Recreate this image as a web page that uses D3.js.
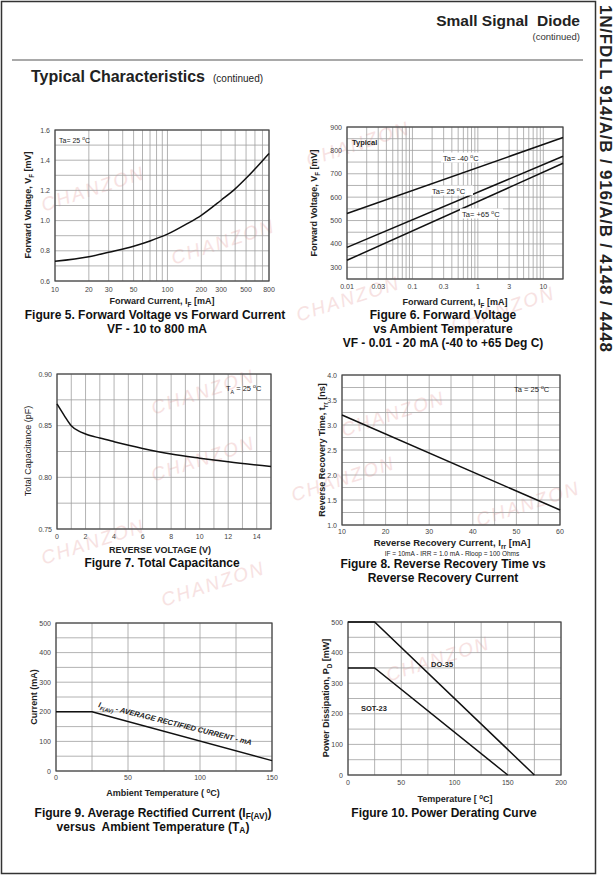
<!DOCTYPE html>
<html>
<head>
<meta charset="utf-8">
<script src="https://cdn.jsdelivr.net/npm/d3@7"></script>
<style>
body { margin: 0; background: #fff; }
svg { display: block; font-family: "Liberation Sans", Arial, sans-serif; }
text { white-space: pre; }
</style>
</head>
<body>
<svg id="page" width="616" height="879"></svg>
<script>
// Figure 5 - forward voltage vs forward current
var fig5Current = [10, 20, 30, 50, 70, 100, 150, 200, 300, 400, 500, 800];
var fig5Voltage = [0.73, 0.76, 0.79, 0.83, 0.865, 0.91, 0.98, 1.035, 1.135, 1.21, 1.28, 1.445];
var fig5XTicks = [10, 20, 30, 50, 100, 200, 300, 500, 800];
var fig5YTicks = [0.6, 0.8, 1.0, 1.2, 1.4, 1.6];

// Figure 6 - forward voltage at three temperatures
var fig6Current = [0.01, 20];
var fig6Minus40 = [530, 855];
var fig6Plus25 = [385, 775];
var fig6Plus65 = [330, 745];
var fig6XTicks = [0.01, 0.03, 0.1, 0.3, 1, 3, 10];
var fig6YTicks = [300, 400, 500, 600, 700, 800, 900];

// Figure 7 - total capacitance
var fig7Voltage = [0, 0.5, 1, 1.5, 2, 3, 4, 6, 8, 10, 12, 15];
var fig7Cap = [0.871, 0.86, 0.85, 0.845, 0.842, 0.838, 0.8345, 0.828, 0.8225, 0.8185, 0.815, 0.8105];
var fig7XTicks = [0, 2, 4, 6, 8, 10, 12, 14];
var fig7YTicks = [0.75, 0.80, 0.85, 0.90];

// Figure 8 - reverse recovery time
var fig8Current = [10, 60];
var fig8Time = [3.2, 1.3];
var fig8XTicks = [10, 20, 30, 40, 50, 60];
var fig8YTicks = [1.0, 1.5, 2.0, 2.5, 3.0, 3.5, 4.0];

// Figure 9 - average rectified current
var fig9Temp = [0, 25, 150];
var fig9Current = [200, 200, 35];
var fig9XTicks = [0, 50, 100, 150];
var fig9YTicks = [0, 100, 200, 300, 400, 500];

// Figure 10 - power derating
var fig10TempDO35 = [0, 25, 175];
var fig10PowerDO35 = [500, 500, 0];
var fig10TempSOT23 = [0, 25, 150];
var fig10PowerSOT23 = [350, 350, 0];
var fig10XTicks = [0, 50, 100, 150, 200];
var fig10YTicks = [0, 100, 200, 300, 400, 500];

var svg = d3.select("#page");

// text with sub / superscript pieces
function rich(t, parts) {
    var shift = 0;
    parts.forEach(function (p) {
        var target = p[1] === "sub" ? 2.5 : p[1] === "sup" ? -3 : 0;
        var s = t.append("tspan").text(p[0]).attr("dy", target - shift);
        if (p[1]) s.style("font-size", "0.7em");
        shift = target;
    });
    return t;
}

function zip(a, b) { return a.map(function (d, i) { return [d, b[i]]; }); }

// faint watermark
var marks = [[95, 195], [225, 248], [360, 150], [350, 305], [205, 398], [95, 548], [395, 420], [345, 485],
    [215, 590], [505, 315], [530, 510], [440, 665], [205, 465]];
svg.append("g").selectAll("text").data(marks).enter().append("text")
    .attr("transform", function (d) { return "translate(" + d[0] + "," + d[1] + ") rotate(-18)"; })
    .attr("text-anchor", "middle")
    .style("font-size", "19px").style("font-style", "italic")
    .style("letter-spacing", "2px")
    .attr("fill", "#f7e2e2")
    .text("CHANZON");

// page frame and header
svg.append("rect").attr("x", 1.5).attr("y", 1.5).attr("width", 594).attr("height", 872)
    .attr("fill", "none").attr("stroke", "#333").attr("stroke-width", 1.5);
svg.append("line").attr("x1", 12).attr("x2", 583).attr("y1", 60).attr("y2", 60)
    .attr("stroke", "#555").attr("stroke-width", 1.2);
svg.append("text").attr("x", 580).attr("y", 26).attr("text-anchor", "end")
    .style("font-size", "15.5px").style("font-weight", "bold").attr("fill", "#222")
    .text("Small Signal  Diode");
svg.append("text").attr("x", 580).attr("y", 40).attr("text-anchor", "end")
    .style("font-size", "9.5px").attr("fill", "#333").text("(continued)");
var head = svg.append("text").attr("x", 31).attr("y", 82).attr("fill", "#222");
head.append("tspan").style("font-size", "16px").style("font-weight", "bold").text("Typical Characteristics");
head.append("tspan").attr("dx", 8).style("font-size", "10px").text("(continued)");
svg.append("text").attr("transform", "translate(600,5) rotate(90)")
    .attr("textLength", 347).attr("lengthAdjust", "spacing")
    .style("font-size", "17px").style("font-weight", "bold").attr("fill", "#222")
    .text("1N/FDLL 914/A/B / 916/A/B / 4148 / 4448");

// one chart panel: grid, frame and tick labels
function panel(p) {
    var g = svg.append("g");
    var x = p.x.range([p.left, p.right]);
    var y = p.y.range([p.bottom, p.top]);
    g.selectAll(".gx").data(p.gridX).enter().append("line")
        .attr("x1", function (d) { return x(d); }).attr("x2", function (d) { return x(d); })
        .attr("y1", p.top).attr("y2", p.bottom)
        .attr("stroke", "#a0a0a0").attr("stroke-width", 0.8);
    g.selectAll(".gy").data(p.gridY).enter().append("line")
        .attr("x1", p.left).attr("x2", p.right)
        .attr("y1", function (d) { return y(d); }).attr("y2", function (d) { return y(d); })
        .attr("stroke", "#a0a0a0").attr("stroke-width", 0.8);
    g.append("rect").attr("x", p.left).attr("y", p.top)
        .attr("width", p.right - p.left).attr("height", p.bottom - p.top)
        .attr("fill", "none").attr("stroke", "#444").attr("stroke-width", 1.2);
    g.selectAll(".tx").data(p.tickX).enter().append("text")
        .attr("x", function (d) { return x(d); }).attr("y", p.bottom + (p.xPad || 10))
        .attr("text-anchor", "middle").style("font-size", "7px").attr("fill", "#444")
        .text(p.fmtX);
    g.selectAll(".ty").data(p.tickY).enter().append("text")
        .attr("x", p.left - 5).attr("y", function (d) { return y(d) + 2.5; })
        .attr("text-anchor", "end").style("font-size", "7px").attr("fill", "#444")
        .text(p.fmtY);
    return { g: g, x: x, y: y };
}

function curve(c, xs, ys, interp) {
    var line = d3.line()
        .x(function (d) { return c.x(d[0]); })
        .y(function (d) { return c.y(d[1]); });
    if (interp) line.curve(d3.curveMonotoneX);
    c.g.append("path").datum(zip(xs, ys)).attr("d", line)
        .attr("fill", "none").attr("stroke", "#111").attr("stroke-width", 1.5);
}

function yTitle(x, y, parts, bold) {
    var t = svg.append("text").attr("transform", "translate(" + x + "," + y + ") rotate(-90)")
        .attr("text-anchor", "middle").style("font-size", "9px").attr("fill", "#222");
    if (bold) t.style("font-weight", "bold");
    return rich(t, parts);
}
function xTitle(x, y, parts, size) {
    var t = svg.append("text").attr("x", x).attr("y", y).attr("text-anchor", "middle")
        .style("font-size", (size || 9) + "px").style("font-weight", "bold").attr("fill", "#222");
    return rich(t, parts);
}
function caption(x, y, parts) {
    var t = svg.append("text").attr("x", x).attr("y", y).attr("text-anchor", "middle")
        .style("font-size", "12px").style("font-weight", "bold").attr("fill", "#111");
    return rich(t, parts);
}
function note(x, y, parts, size, bold, anchor) {
    var t = svg.append("text").attr("x", x).attr("y", y).attr("text-anchor", anchor || "start")
        .style("font-size", (size || 7) + "px").attr("fill", "#222");
    if (bold) t.style("font-weight", "bold");
    return rich(t, parts);
}

// ---- Figure 5
var f5 = panel({
    left: 55, top: 130, right: 269, bottom: 281,
    x: d3.scaleLog().domain([10, 800]), y: d3.scaleLinear().domain([0.6, 1.6]),
    gridX: d3.scaleLog().domain([10, 800]).ticks(), gridY: d3.range(0.6, 1.65, 0.1),
    tickX: fig5XTicks, tickY: fig5YTicks, xPad: 11,
    fmtX: function (d) { return d; }, fmtY: d3.format(".1f")
});
curve(f5, fig5Current, fig5Voltage, true);
note(59, 143, [["Ta= 25 "], ["o", "sup"], ["C"]]);
yTitle(31, 205, [["Forward Voltage, V"], ["F", "sub"], [" [mV]"]], true);
xTitle(162, 304, [["Forward Current, I"], ["F", "sub"], [" [mA]"]]);
caption(155, 318.5, [["Figure 5. Forward Voltage vs Forward Current"]]);
caption(157, 333, [["VF - 10 to 800 mA"]]);

// ---- Figure 6
var f6 = panel({
    left: 347, top: 127, right: 563, bottom: 279,
    x: d3.scaleLog().domain([0.01, 20]), y: d3.scaleLinear().domain([250, 900]),
    gridX: d3.scaleLog().domain([0.01, 20]).ticks(), gridY: d3.range(250, 901, 50),
    tickX: fig6XTicks, tickY: fig6YTicks, xPad: 10,
    fmtX: function (d) { return d; }, fmtY: function (d) { return d; }
});
curve(f6, fig6Current, fig6Minus40);
curve(f6, fig6Current, fig6Plus25);
curve(f6, fig6Current, fig6Plus65);
note(352, 145, [["Typical"]], 7.5, true);
[[443, 160.5, "-40 "], [432, 193.5, "25 "], [462, 216.5, "+65 "]].forEach(function (l) {
    f6.g.append("rect").attr("x", l[0] - 2).attr("y", l[1] - 8).attr("width", 43).attr("height", 10).attr("fill", "#fff");
    note(l[0], l[1], [["Ta= " + l[2]], ["o", "sup"], ["C"]], 7.5);
});
yTitle(317, 203, [["Forward Voltage, V"], ["F", "sub"], [" [mV]"]], true);
xTitle(455, 305, [["Forward Current, I"], ["F", "sub"], [" [mA]"]]);
caption(443, 318.5, [["Figure 6. Forward Voltage"]]);
caption(443, 332.5, [["vs Ambient Temperature"]]);
caption(443, 346.5, [["VF - 0.01 - 20 mA (-40 to +65 Deg C)"]]);

// ---- Figure 7
var f7 = panel({
    left: 57, top: 374, right: 271, bottom: 529,
    x: d3.scaleLinear().domain([0, 15]), y: d3.scaleLinear().domain([0.75, 0.90]),
    gridX: d3.range(0, 16, 1), gridY: d3.range(0.75, 0.9001, 0.025),
    tickX: fig7XTicks, tickY: fig7YTicks, xPad: 10,
    fmtX: function (d) { return d; }, fmtY: d3.format(".2f")
});
curve(f7, fig7Voltage, fig7Cap, true);
note(226, 391, [["T"], ["A", "sub"], [" = 25 "], ["o", "sup"], ["C"]], 7.5);
yTitle(31, 451, [["Total Capacitance (pF)"]], false);
xTitle(160, 553, [["REVERSE VOLTAGE (V)"]]);
caption(162, 566.5, [["Figure 7. Total Capacitance"]]);

// ---- Figure 8
var f8 = panel({
    left: 342, top: 375, right: 560, bottom: 525,
    x: d3.scaleLinear().domain([10, 60]), y: d3.scaleLinear().domain([1, 4]),
    gridX: d3.range(10, 61, 5), gridY: d3.range(1, 4.01, 0.25),
    tickX: fig8XTicks, tickY: fig8YTicks, xPad: 9,
    fmtX: function (d) { return d; }, fmtY: d3.format(".1f")
});
curve(f8, fig8Current, fig8Time);
note(514, 392, [["Ta = 25 "], ["o", "sup"], ["C"]], 7.5);
yTitle(325, 450, [["Reverse Recovery Time, t"], ["rr", "sub"], [" [ns]"]], true);
xTitle(452, 546, [["Reverse Recovery Current, I"], ["rr", "sub"], [" [mA]"]], 9.5);
note(452, 555.5, [["IF = 10mA - IRR = 1.0 mA - Rloop = 100 Ohms"]], 6.5, false, "middle");
caption(443, 567.5, [["Figure 8. Reverse Recovery Time vs"]]);
caption(443, 581.5, [["Reverse Recovery Current"]]);

// ---- Figure 9
var f9 = panel({
    left: 56, top: 623, right: 272, bottom: 771,
    x: d3.scaleLinear().domain([0, 150]), y: d3.scaleLinear().domain([0, 500]),
    gridX: d3.range(0, 151, 25), gridY: d3.range(0, 501, 50),
    tickX: fig9XTicks, tickY: fig9YTicks, xPad: 9,
    fmtX: function (d) { return d; }, fmtY: function (d) { return d; }
});
curve(f9, fig9Temp, fig9Current);
var lab9 = svg.append("text").attr("transform", "translate(98,707) rotate(14)")
    .style("font-size", "7.5px").style("font-weight", "bold").style("font-style", "italic")
    .attr("fill", "#222");
rich(lab9, [["I"], ["F(AV)", "sub"], [" - AVERAGE RECTIFIED CURRENT - mA"]]);
yTitle(37, 697, [["Current (mA)"]], true);
xTitle(163, 796, [["Ambient Temperature ( "], ["o", "sup"], ["C)"]]);
caption(153, 816.5, [["Figure 9. Average Rectified Current (I"], ["F(AV)", "sub"], [")"]]);
caption(153, 830.5, [["versus  Ambient Temperature (T"], ["A", "sub"], [")"]]);

// ---- Figure 10
var f10 = panel({
    left: 348, top: 622, right: 561, bottom: 775,
    x: d3.scaleLinear().domain([0, 200]), y: d3.scaleLinear().domain([0, 500]),
    gridX: d3.range(0, 201, 25), gridY: d3.range(0, 501, 50),
    tickX: fig10XTicks, tickY: fig10YTicks, xPad: 10,
    fmtX: function (d) { return d; }, fmtY: function (d) { return d; }
});
curve(f10, fig10TempDO35, fig10PowerDO35);
curve(f10, fig10TempSOT23, fig10PowerSOT23);
note(431, 667, [["DO-35"]], 7.5, true);
note(361, 711, [["SOT-23"]], 7.5, true);
yTitle(329, 698, [["Power Dissipation, P"], ["D", "sub"], [" [mW]"]], true);
xTitle(455, 802, [["Temperature [ "], ["o", "sup"], ["C]"]]);
caption(444, 816.5, [["Figure 10. Power Derating Curve"]]);
</script>
</body>
</html>
